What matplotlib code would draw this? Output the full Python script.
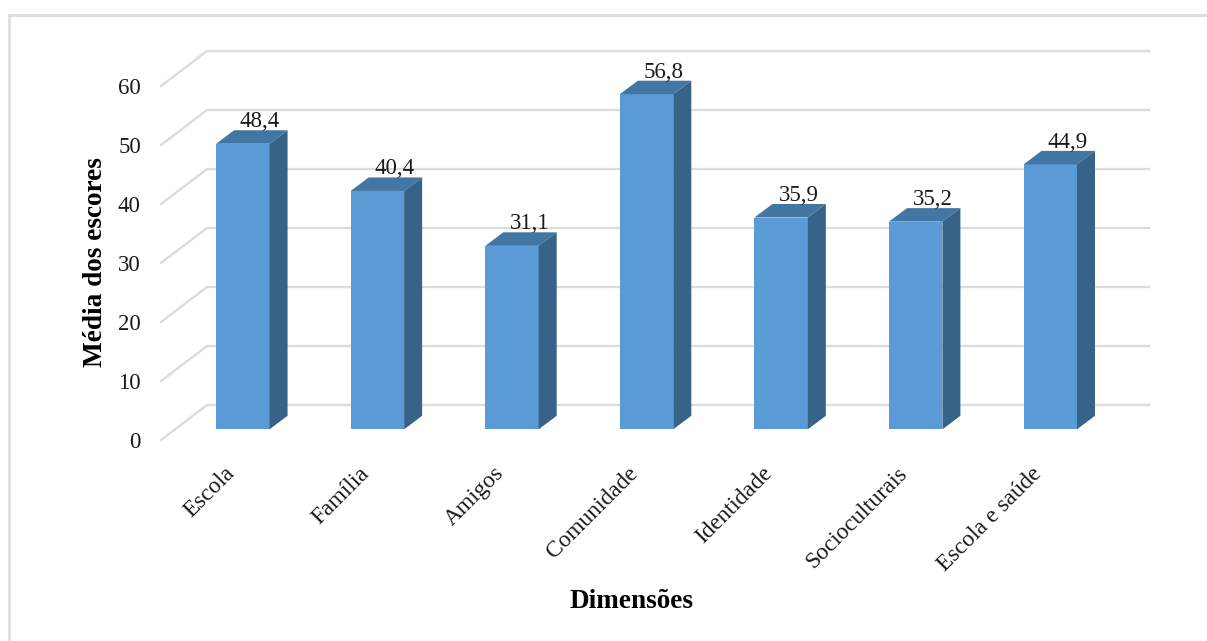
import matplotlib
matplotlib.use("Agg")
import matplotlib.pyplot as plt
from matplotlib.lines import Line2D
from matplotlib.patches import Polygon
from matplotlib.transforms import ScaledTranslation

plt.rcParams['font.family'] = ['Liberation Serif', 'DejaVu Serif']

categories = ["Escola", "Família", "Amigos", "Comunidade", "Identidade",
              "Socioculturais", "Escola e saúde"]
scores = [48.4, 40.4, 31.1, 56.8, 35.9, 35.2, 44.9]
score_labels = ["48,4", "40,4", "31,1", "56,8", "35,9", "35,2", "44,9"]
y_ticks = [0, 10, 20, 30, 40, 50, 60]

W, H = 1207, 641
FRONT = "#5B9BD5"
TOP = "#4476A3"
SIDE = "#386389"
GRID = "#DCDCDC"
INK = "#1A1A1A"

fig = plt.figure(figsize=(W / 100, H / 100), dpi=100, facecolor="white")

# The axes rectangle is the front plane of the 3D box.
left, right, base, top = 161, 1103, 440, 86
ax = fig.add_axes([left / W, 1 - base / H, (right - left) / W, (base - top) / H])
ax.set_xlim(-0.5, 6.5)
ax.set_ylim(0, 60)
ax.patch.set_visible(False)
for s in ax.spines.values():
    s.set_visible(False)

# Oblique projection offsets, in data units.
WALL_DX, WALL_DY = 0.342, 5.93
PLANE_DX, PLANE_DY = 0.108, 1.81
BAR_DX, BAR_DY = 0.134, 2.29
BAR_W = 0.397

# Floor and wall gridlines.
for v in y_ticks:
    ax.plot([-0.5, -0.5 + WALL_DX, 6.5 + WALL_DX],
            [v, v + WALL_DY, v + WALL_DY],
            color=GRID, lw=1.7, clip_on=False, zorder=1, solid_joinstyle="miter")

# Bars: a front face and two parallelograms for the depth.
for i, v in enumerate(scores):
    x0 = i + PLANE_DX - BAR_W / 2
    x1 = x0 + BAR_W
    y0 = PLANE_DY
    y1 = PLANE_DY + v
    ax.bar(x0 + BAR_W / 2, v, width=BAR_W, bottom=y0, color=FRONT, zorder=3, clip_on=False)
    ax.add_patch(Polygon([(x0, y1), (x1, y1), (x1 + BAR_DX, y1 + BAR_DY), (x0 + BAR_DX, y1 + BAR_DY)],
                         closed=True, facecolor=TOP, edgecolor="none", zorder=3, clip_on=False))
    ax.add_patch(Polygon([(x1, y0), (x1 + BAR_DX, y0 + BAR_DY), (x1 + BAR_DX, y1 + BAR_DY), (x1, y1)],
                         closed=True, facecolor=SIDE, edgecolor="none", zorder=3, clip_on=False))
    ax.annotate(score_labels[i], (i + PLANE_DX + BAR_DX * 0.92, y1 + BAR_DY),
                xytext=(0.5, 2.2), textcoords="offset points", ha="center", va="baseline",
                fontsize=16.5, color=INK, zorder=4, annotation_clip=False)

ax.set_yticks(y_ticks)
ax.tick_params(axis="y", length=0, pad=14.5, labelsize=16.5, labelcolor=INK)
ax.set_xticks(range(len(categories)))
ax.set_xticklabels(categories, rotation=45, ha="right", va="center",
                   rotation_mode="anchor", fontsize=16.8, color=INK)
ax.tick_params(axis="x", length=0, pad=22)
nudge = ScaledTranslation(3 / 100, 0, fig.dpi_scale_trans)
for lab in ax.get_xticklabels():
    lab.set_transform(lab.get_transform() + nudge)

ax.set_ylabel("Média dos escores", fontsize=19.6, fontweight="bold", color="black", va="center")
ax.yaxis.set_label_coords((95 - left) / (right - left), (base - 262) / (base - top))
ax.set_xlabel("Dimensões", fontsize=19.6, fontweight="bold", color="black", va="center")
ax.xaxis.set_label_coords((632 - left) / (right - left), (base - 601) / (base - top))

# Light frame along the top and left of the figure.
fig.add_artist(Line2D([8.5 / W, 8.5 / W, 1], [0, 1 - 15 / H, 1 - 15 / H],
                      color="#DDDDDD", lw=2, solid_joinstyle="miter"))

fig.savefig("out.png", dpi=100, facecolor="white")
